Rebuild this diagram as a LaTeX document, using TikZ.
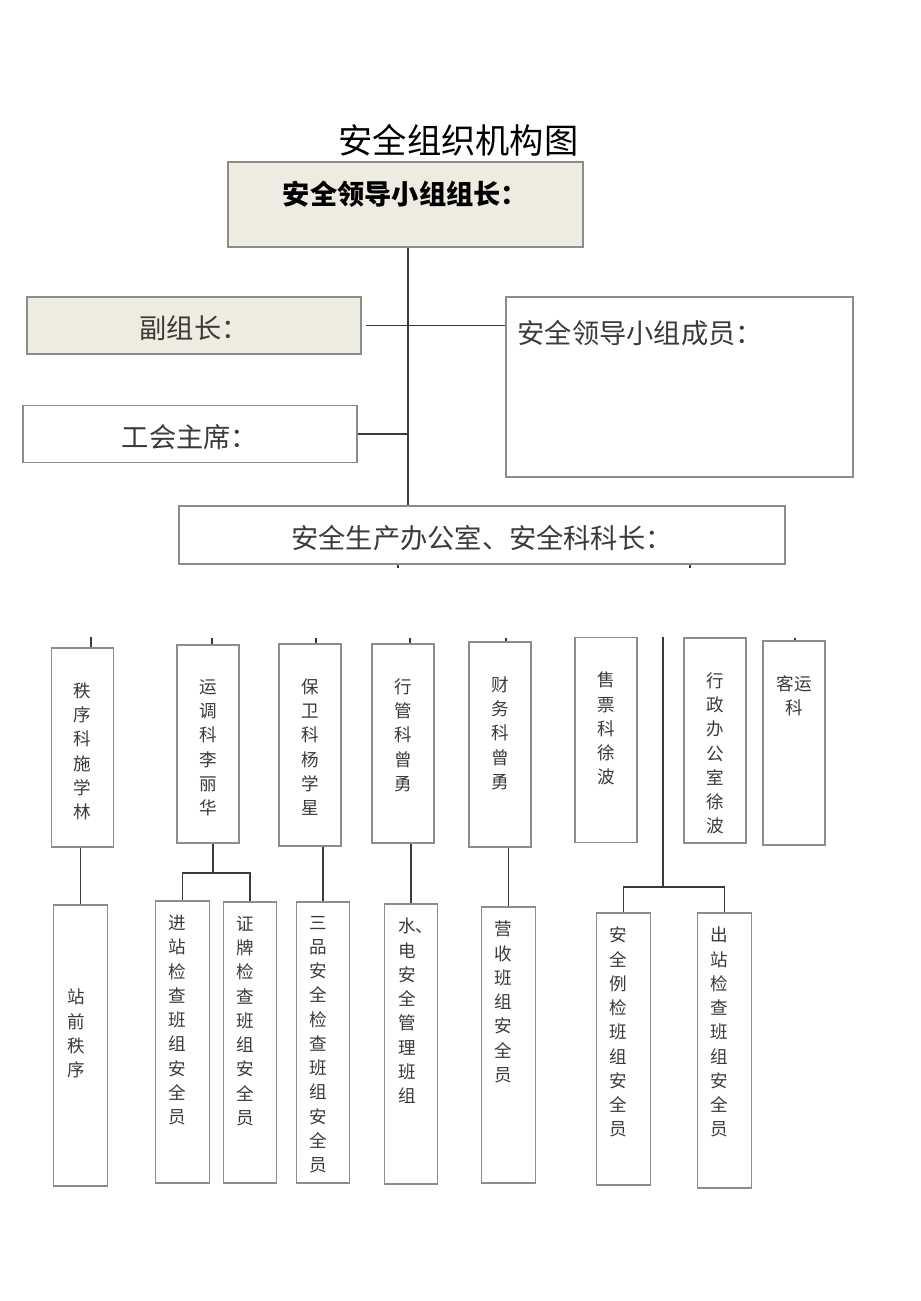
\documentclass[tikz,border=0pt]{standalone}
\usepackage{fontspec}
\setmainfont{Noto Sans CJK SC}
\definecolor{tan}{HTML}{EEECE1}
\definecolor{edge}{HTML}{8C8C8C}
\definecolor{ink}{HTML}{3A3A3A}

\begin{document}
\begin{tikzpicture}[x=0.02cm, y=-0.02cm,
  box/.style={draw=edge, line width=0.8pt, inner sep=0pt},
  lead/.style={box, fill=tan},
  big/.style={font=\fontsize{15.5}{18}\selectfont, text=ink, text height=1.55em, text depth=0.07em},
  dept/.style={box, minimum width=1.24cm},
  team/.style={box, minimum width=1.07cm},
  vtxt/.style={font=\fontsize{10}{13.8}\selectfont, text=ink, align=center, inner sep=0pt},
  uptxt/.style={vtxt, anchor=north, yshift=-0.70cm},
  lowtxt/.style={vtxt, anchor=north, xshift=-0.10cm, yshift=-0.29cm},
  link/.style={draw=ink, line width=0.8pt}]
  \useasboundingbox (0,0) rectangle (920,1301);

  \node[font=\fontsize{19.5}{24}\selectfont] (title) at (458.5,140) {安全组织机构图};

  % leading group
  \node[lead, minimum width=7.10cm, minimum height=1.70cm,
    label={[anchor=north, yshift=-0.27cm, font=\fontsize{15.5}{18}\selectfont\bfseries]north:安全领导小组组长：}]
    (head) at (405.5,204.5) {};
  \node[lead, big, minimum width=6.68cm, minimum height=1.14cm] (vice) at (194,325.5) {副组长：};
  \node[box, minimum width=6.94cm, minimum height=3.60cm,
    label={[font=\fontsize{15.5}{18}\selectfont, text=ink, anchor=north west, inner sep=0pt, xshift=0.24cm, yshift=-0.47cm]north west:安全领导小组成员：}]
    (members) at (679.5,387) {};
  \node[box, big, minimum width=6.68cm, minimum height=1.14cm] (union) at (190,434) {工会主席：};
  \node[box, big, minimum width=12.12cm, minimum height=1.16cm] (office) at (482,535) {安全生产办公室、安全科科长：};

  \coordinate (spine) at (408,0);
  \draw[link] (head.south -| spine) -- (office.north -| spine);
  \draw[link] ([xshift=0.08cm]vice.east) -- (vice.east -| members.west);
  \draw[link] (union.east) -- (union.east -| spine);

  \coordinate (s1) at (398,568);
  \coordinate (s2) at (690,568);
  \draw[link] (office.south -| s1) -- (s1);
  \draw[link] (office.south -| s2) -- (s2);

  % departments
  \node[dept, minimum height=3.98cm, label={[uptxt]north:秩\\序\\科\\施\\学\\林}] (d1) at (82.5,747.5) {};
  \node[dept, minimum height=3.96cm, label={[uptxt]north:运\\调\\科\\李\\丽\\华}] (d2) at (208,744) {};
  \node[dept, minimum height=4.04cm, label={[uptxt]north:保\\卫\\科\\杨\\学\\星}] (d3) at (310,745) {};
  \node[dept, minimum height=3.98cm, label={[uptxt]north:行\\管\\科\\曾\\勇}] (d4) at (403,743.5) {};
  \node[dept, minimum height=4.10cm, label={[uptxt]north:财\\务\\科\\曾\\勇}] (d5) at (500,744.5) {};
  \node[dept, minimum height=4.10cm, label={[uptxt]north:售\\票\\科\\徐\\波}] (d6) at (606,740) {};
  \node[dept, minimum height=4.10cm, label={[uptxt]north:行\\政\\办\\公\\室\\徐\\波}] (d7) at (715,740.5) {};
  \node[dept, minimum height=4.08cm, label={[uptxt]north:客运\\科}] (d8) at (794,743) {};

  \coordinate (t1) at (91,637);
  \coordinate (t2) at (212,638);
  \coordinate (t3) at (316,638);
  \coordinate (t4) at (410,638);
  \coordinate (t5) at (506,638);
  \coordinate (t8) at (795,638);
  \foreach \i in {1,2,3,4,5,8}
    \draw[link] (d\i.north -| t\i) -- (t\i);

  % teams
  \node[team, minimum height=5.62cm, label={[vtxt, yshift=0.24cm, xshift=-0.09cm]center:站\\前\\秩\\序}] (a) at (80.5,1045.5) {};
  \node[team, minimum height=5.64cm, label={[lowtxt]north:进\\站\\检\\查\\班\\组\\安\\全\\员}] (b) at (182.5,1042) {};
  \node[team, minimum height=5.62cm, label={[lowtxt]north:证\\牌\\检\\查\\班\\组\\安\\全\\员}] (c) at (250,1042.5) {};
  \node[team, minimum height=5.62cm, label={[lowtxt]north:三\\品\\安\\全\\检\\查\\班\\组\\安\\全\\员}] (d) at (323,1042.5) {};
  \node[team, minimum height=5.60cm, label={[vtxt, align=left, anchor=north west, xshift=0.29cm, yshift=-0.29cm]north west:水、\\电\\安\\全\\管\\理\\班\\组}] (e) at (411,1044) {};
  \node[team, minimum height=5.52cm, label={[lowtxt]north:营\\收\\班\\组\\安\\全\\员}] (f) at (508.5,1045) {};
  \node[team, minimum height=5.44cm, label={[lowtxt]north:安\\全\\例\\检\\班\\组\\安\\全\\员}] (g) at (623.5,1049) {};
  \node[team, minimum height=5.50cm, label={[lowtxt]north:出\\站\\检\\查\\班\\组\\安\\全\\员}] (h) at (724.5,1050.5) {};

  \draw[link] (a.north) -- (a.north |- d1.south);
  \coordinate (fork2) at (213,873);
  \draw[link] (d2.south -| fork2) -- (fork2);
  \draw[link] (b.north) |- (fork2) -| (c.north);
  \draw[link] (d.north) -- (d.north |- d3.south);
  \draw[link] (e.north) -- (e.north |- d4.south);
  \draw[link] (f.north) -- (f.north |- d5.south);

  \coordinate (t6) at (663,637);
  \coordinate (fork6) at (663,887);
  \draw[link] (t6) -- (fork6);
  \draw[link] (g.north) |- (fork6) -| (h.north);
\end{tikzpicture}
\end{document}
